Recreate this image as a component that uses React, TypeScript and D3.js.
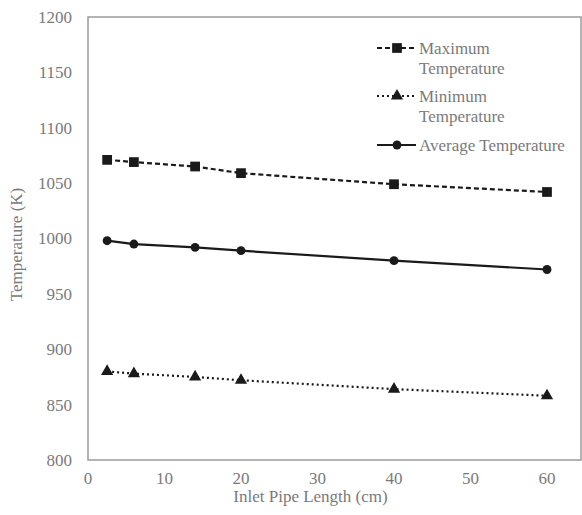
import React, { useEffect, useRef } from "react";
import * as d3 from "d3";

const LENGTHS = [2.5, 6, 14, 20, 40, 60];
const MAX_TEMP = [1071, 1069, 1065, 1059, 1049, 1042];
const MIN_TEMP = [880, 878, 875, 872, 864, 858];
const AVG_TEMP = [998, 995, 992, 989, 980, 972];
const X_TICKS = [0, 10, 20, 30, 40, 50, 60];
const Y_TICKS = [800, 850, 900, 950, 1000, 1050, 1100, 1150, 1200];

const W = 582;
const H = 515;
const FONT = "Liberation Serif, Tinos, Times New Roman, DejaVu Serif, serif";
const GREY = "#7a7a7a";
const FS = "17px";

export default function App() {
  const ref = useRef<SVGSVGElement>(null);

  useEffect(() => {
    const svg = d3.select(ref.current);
    svg.selectAll("*").remove();

    const left = 88,
      top = 17,
      bottom = 460;

    const x = d3.scaleLinear().domain([0, 60]).range([left, 547]);
    const y = d3.scaleLinear().domain([800, 1200]).range([bottom, top]);

    // plot frame
    svg
      .append("rect")
      .attr("x", left)
      .attr("y", top)
      .attr("width", 581 - left)
      .attr("height", bottom - top)
      .attr("fill", "none")
      .attr("stroke", "#9a9a9a")
      .attr("stroke-width", 1.5);

    // y tick labels
    svg
      .append("g")
      .selectAll("text")
      .data(Y_TICKS)
      .enter()
      .append("text")
      .attr("x", 72)
      .attr("y", (d) => y(d))
      .attr("dy", "0.35em")
      .attr("text-anchor", "end")
      .attr("fill", GREY)
      .attr("font-family", FONT)
      .attr("font-size", FS)
      .text((d) => d);

    // x tick labels
    svg
      .append("g")
      .selectAll("text")
      .data(X_TICKS)
      .enter()
      .append("text")
      .attr("x", (d) => x(d))
      .attr("y", 484)
      .attr("text-anchor", "middle")
      .attr("fill", GREY)
      .attr("font-family", FONT)
      .attr("font-size", FS)
      .text((d) => d);

    svg
      .append("text")
      .attr("x", x(30) - 7)
      .attr("y", 502)
      .attr("text-anchor", "middle")
      .attr("fill", GREY)
      .attr("font-family", FONT)
      .attr("font-size", FS)
      .text("Inlet Pipe Length (cm)");

    svg
      .append("text")
      .attr("transform", `translate(22,${(top + bottom) / 2 + 6}) rotate(-90)`)
      .attr("text-anchor", "middle")
      .attr("fill", GREY)
      .attr("font-family", FONT)
      .attr("font-size", FS)
      .text("Temperature (K)");

    const series = [
      { name: ["Maximum", "Temperature"], values: MAX_TEMP, dash: "5,3", marker: "square" },
      { name: ["Minimum", "Temperature"], values: MIN_TEMP, dash: "2,3", marker: "triangle" },
      { name: ["Average Temperature"], values: AVG_TEMP, dash: null, marker: "circle" },
    ];

    const symbolFor = (m: string) =>
      m === "square"
        ? d3.symbol(d3.symbolSquare, 95)
        : m === "triangle"
        ? d3.symbol(d3.symbolTriangle, 65)
        : d3.symbol(d3.symbolCircle, 62);

    const line = d3
      .line<number>()
      .x((_, i) => x(LENGTHS[i]))
      .y((d) => y(d));

    series.forEach((s) => {
      const p = svg
        .append("path")
        .attr("d", line(s.values))
        .attr("fill", "none")
        .attr("stroke", "#1a1a1a")
        .attr("stroke-width", 2.2);
      if (s.dash) p.attr("stroke-dasharray", s.dash);

      svg
        .append("g")
        .selectAll("path")
        .data(s.values)
        .enter()
        .append("path")
        .attr("d", symbolFor(s.marker) as any)
        .attr("transform", (d, i) => `translate(${x(LENGTHS[i])},${y(d)})`)
        .attr("fill", "#1a1a1a");
    });

    // legend
    const rows = [48, 96, 145];
    series.forEach((s, i) => {
      const g = svg.append("g").attr("transform", `translate(0,${rows[i]})`);
      const l = g
        .append("line")
        .attr("x1", 377)
        .attr("x2", 416)
        .attr("y1", 0)
        .attr("y2", 0)
        .attr("stroke", "#1a1a1a")
        .attr("stroke-width", 2.2);
      if (s.dash) l.attr("stroke-dasharray", s.dash);
      g.append("path")
        .attr("d", symbolFor(s.marker) as any)
        .attr("transform", "translate(397,0)")
        .attr("fill", "#1a1a1a");
      s.name.forEach((t, j) => {
        g.append("text")
          .attr("x", 419)
          .attr("y", j * 20)
          .attr("dy", "0.35em")
          .attr("fill", GREY)
          .attr("font-family", FONT)
          .attr("font-size", FS)
          .text(t);
      });
    });
  }, []);

  return (
    <svg
      ref={ref}
      width={W}
      height={H}
      style={{ display: "block", position: "absolute", left: 0, top: 0, background: "#fff" }}
    />
  );
}
